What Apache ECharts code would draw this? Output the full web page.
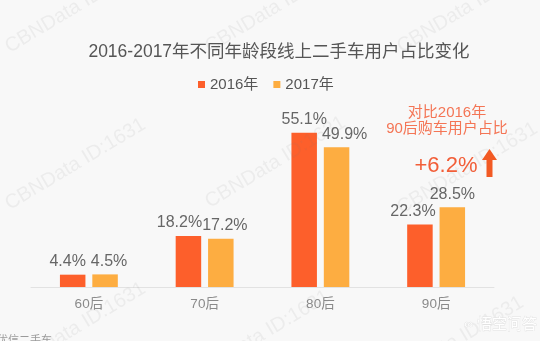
<!DOCTYPE html>
<html>
<head>
<meta charset="utf-8">
<script src="https://cdn.jsdelivr.net/npm/echarts@6/dist/echarts.min.js"></script>
<style>
  html, body { margin: 0; padding: 0; background: #f8f8f8; }
  #chart { width: 558px; height: 341px; }
</style>
</head>
<body>
<div id="chart"></div>
<script>
// Age groups on the x axis
const categories = ['60后', '70后', '80后', '90后'];
// Share of online used-car users by age group, percent
const share2016 = [4.4, 18.2, 55.1, 22.3];
const share2017 = [4.5, 17.2, 49.9, 28.5];
const seriesNames = ['2016年', '2017年'];

// Horizontal nudges for the value labels so neighbours don't collide
const labelShift2016 = [-5, -9, 0, -7];
const labelShift2017 = [4, 4, 8, 0];

const FONT = '"Liberation Sans", "Noto Sans CJK SC", sans-serif';
const change90 = (share2017[3] - share2016[3]).toFixed(1);

function withLabelShift(values, shifts) {
  return values.map((v, i) => ({ value: v, label: { offset: [shifts[i], 0] } }));
}

// Repeating faint watermark
const watermarkPos = [
  [12, 57], [212, 57], [404, 57],
  [12, 214], [212, 212], [404, 218],
  [12, 378], [196, 386], [390, 392]
];
const watermarks = watermarkPos.map(p => ({
  type: 'text', x: p[0], y: p[1], rotation: Math.PI / 180 * 31, z: 10, silent: true,
  style: {
    text: 'CBNData ID:1631', fill: 'rgba(120,120,120,0.09)', font: '20px ' + FONT,
    textAlign: 'left', textVerticalAlign: 'bottom'
  }
}));

const labelStyle = { show: true, position: 'top', distance: 5, formatter: '{c}%', color: '#666', fontSize: 16, fontFamily: FONT };

const chart = echarts.init(document.getElementById('chart'), null, { renderer: 'canvas' });
chart.setOption({
  backgroundColor: '#f8f8f8',
  animation: false,
  textStyle: { fontFamily: FONT },
  title: {
    text: '2016-2017年不同年龄段线上二手车用户占比变化',
    left: 'center', top: 38,
    textStyle: { fontSize: 17.5, fontWeight: 'normal', color: '#555', fontFamily: FONT }
  },
  legend: {
    data: seriesNames, left: 193, top: 72,
    itemWidth: 7, itemHeight: 7, itemGap: 15, icon: 'rect',
    textStyle: { fontSize: 15, color: '#555', fontFamily: FONT }
  },
  grid: { left: 31, right: 64, top: 119, bottom: 54 },
  xAxis: {
    type: 'category', data: categories,
    axisLine: { lineStyle: { color: '#e2e2e2' } },
    axisTick: { show: false },
    axisLabel: { color: '#8a8a8a', fontSize: 13.5, margin: 11, fontFamily: FONT }
  },
  yAxis: { type: 'value', min: 0, max: 60, show: false, splitLine: { show: false } },
  series: [
    {
      name: seriesNames[0], type: 'bar', data: withLabelShift(share2016, labelShift2016),
      barWidth: 25.5, barGap: '27%',
      itemStyle: { color: '#fd5f2b' },
      label: labelStyle
    },
    {
      name: seriesNames[1], type: 'bar', data: withLabelShift(share2017, labelShift2017),
      barWidth: 25.5,
      itemStyle: { color: '#fdad41' },
      label: labelStyle
    }
  ],
  graphic: [
    { type: 'rect', shape: { x: 540, y: 0, width: 18, height: 341 }, style: { fill: '#ffffff' }, z: -1, silent: true },
    ...watermarks,
    // Callout for the 90后 change
    { type: 'text', x: 447, y: 113, z: 10, style: { text: '对比2016年', fill: '#f47555', font: '15px ' + FONT, textAlign: 'center', textVerticalAlign: 'middle' } },
    { type: 'text', x: 447, y: 129, z: 10, style: { text: '90后购车用户占比', fill: '#f47555', font: '15px ' + FONT, textAlign: 'center', textVerticalAlign: 'middle' } },
    { type: 'text', x: 446, y: 166, z: 10, style: { text: '+' + change90 + '%', fill: '#f25e38', font: '22px ' + FONT, textAlign: 'center', textVerticalAlign: 'middle' } },
    { type: 'rect', z: 10, shape: { x: 486.5, y: 158, width: 6, height: 19 }, style: { fill: '#f25a24' } },
    { type: 'polygon', z: 10, shape: { points: [[482, 160], [489.5, 149], [497, 160]] }, style: { fill: '#f25a24' } },
    // Source line and corner mark
    { type: 'text', x: 52, y: 335, z: 10, style: { text: '数据来源：优信二手车', fill: '#9a9a9a', font: '11px ' + FONT, textAlign: 'right', textVerticalAlign: 'top' } },
    { type: 'text', x: 477, y: 325, z: 10, style: { text: '悟空问答', fill: '#ffffff', stroke: '#e2e2e2', lineWidth: 0.8, font: '15px ' + FONT, textAlign: 'left', textVerticalAlign: 'middle' } },
    { type: 'text', x: 473, y: 325, z: 10, style: { text: '∞', fill: '#ffffff', stroke: '#e2e2e2', lineWidth: 0.8, font: '12px ' + FONT, textAlign: 'right', textVerticalAlign: 'middle' } }
  ]
});
</script>
</body>
</html>
